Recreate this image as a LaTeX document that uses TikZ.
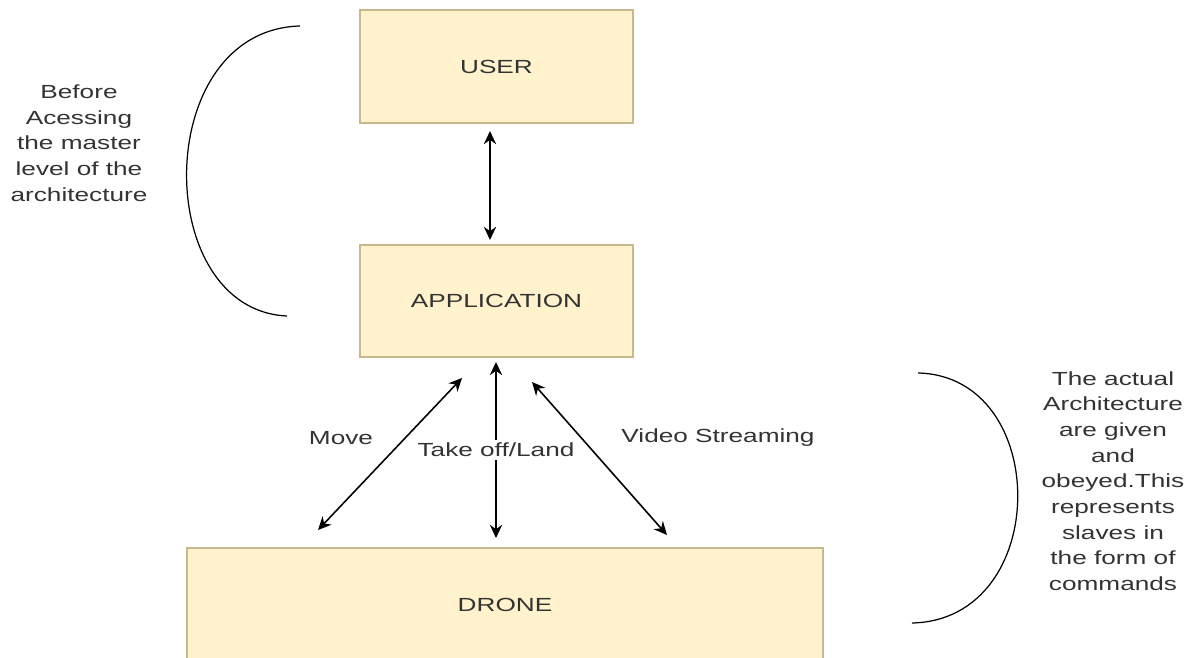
\documentclass[tikz,border=0pt]{standalone}
\usepackage{fontspec}
\setmainfont{Liberation Sans}[FakeStretch=1.38]
\usetikzlibrary{arrows.meta}
\definecolor{boxfill}{HTML}{FFF2CC}
\definecolor{boxline}{RGB}{200,185,140}
\definecolor{txtgray}{HTML}{333333}
\begin{document}
\begin{tikzpicture}[x=0.02cm,y=-0.02cm,
  layer/.style={draw=boxline,fill=boxfill,line width=0.8pt,text=txtgray,font=\fontsize{10.8}{14.6}\selectfont},
  link/.style={{Stealth[length=7.5pt,width=7pt]}-{Stealth[length=7.5pt,width=7pt]},line width=0.9pt},
  note/.style={align=center,text=txtgray,font=\fontsize{10.8}{14.6}\selectfont},
  bracket/.style={line width=0.7pt}]
\useasboundingbox (0,0) rectangle (1191,658);
\node[layer,minimum width=5.46cm,minimum height=2.26cm] (user) at (496.5,66.5) {USER};
\node[layer,minimum width=5.46cm,minimum height=2.24cm] (app) at (496.5,301) {APPLICATION};
\node[layer,minimum width=12.72cm,minimum height=2.28cm] (drone) at (505,605) {DRONE};
\coordinate (ua1) at (490,131);
\coordinate (ua2) at (490,240);
\coordinate (mv1) at (462,378);
\coordinate (mv2) at (318,530);
\coordinate (tl1) at (496,362);
\coordinate (tl2) at (496,538);
\coordinate (vs1) at (532,382);
\coordinate (vs2) at (667,535);
\draw[link] (ua1) -- (ua2);
\draw[link] (mv1) -- (mv2);
\draw[link] (tl1) -- node[note,fill=white,inner sep=1.5pt] (tllabel) {Take off/Land} (tl2);
\draw[link] (vs1) -- (vs2);
\node[note] (move) at (341,438) {Move};
\node[note] (video) at (718,438) {Video Streaming};
% brackets and side notes
\draw[bracket] (300,26) .. controls (151,30) and (151,310) .. (287,316);
\draw[bracket] (918,373) .. controls (1052,376) and (1052,620) .. (912,623);
\node[note] (before) at (79,143) {Before\\Acessing\\the master\\level of the\\architecture};
\node[note] (actual) at (1113,481) {The actual\\Architecture\\are given\\and\\obeyed.This\\represents\\slaves in\\the form of\\commands};
\end{tikzpicture}
\end{document}
